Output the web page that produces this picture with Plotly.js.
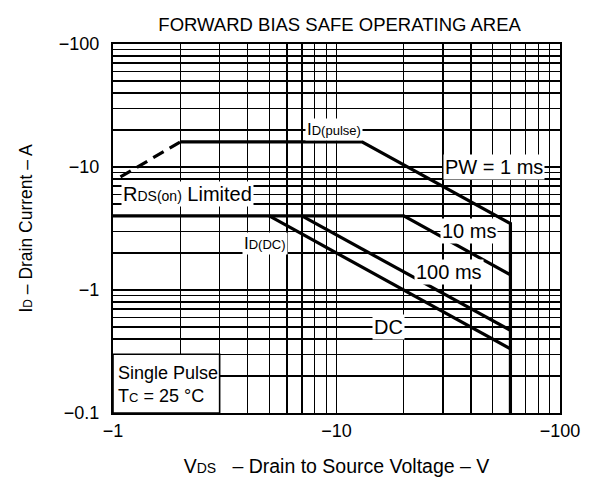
<!DOCTYPE html>
<html>
<head>
<meta charset="utf-8">
<script src="https://cdn.plot.ly/plotly-3.0.1.min.js"></script>
<style>html,body{margin:0;padding:0;background:#fff;}#chart{width:592px;height:483px;}</style>
</head>
<body>
<div id="chart"></div>
<script>
// ---- data (magnitudes; axis labels carry the minus sign) ----
const rdsX = [1.08, 2];          // RDS(on) limited (dashed)
const rdsY = [8.3, 16];
const pulseX = [2, 13, 60, 60];  // ID(pulse), PW = 1 ms
const pulseY = [16, 16, 3.47, 0.1];
const ms10X = [1, 20, 60];       // 10 ms (with ID(DC) flat part)
const ms10Y = [4, 4, 1.33];
const ms100X = [7, 60];          // 100 ms
const ms100Y = [4, 0.47];
const dcX = [5, 60];             // DC
const dcY = [4, 0.333];

const xTickVals = [1, 10, 100];
const xTickText = ['\u22121', '\u221210', '\u2212100'];
const yTickVals = [0.1, 1, 10, 100];
const yTickText = ['\u22120.1', '\u22121', '\u221210', '\u2212100'];

const labelText = [
  'I<span style="font-size:13px">D(pulse)</span>',
  'PW = 1 ms',
  'R<span style="font-size:14px">DS(on)</span> Limited',
  '10 ms',
  '100 ms',
  'I<span style="font-size:13px">D(DC)</span>',
  'DC'
];
const labelSize = [17, 20, 20, 20, 20, 17, 20];
const labelX = [9.7, 50.5, 2.15, 39, 32, 4.8, 17];
const labelY = [20, 10, 6, 3, 1.4, 2.4, 0.5];

// minor grid values 2..9 per decade
function minorVals(lo, hi) {
  const v = [];
  for (let d = lo; d < hi; d++) for (let k = 2; k <= 9; k++) v.push(k * Math.pow(10, d));
  return v;
}

const lineStyle = {color: '#000', width: 3.2};
const traces = [
  {x: rdsX, y: rdsY, mode: 'lines', line: {color: '#000', width: 3.2, dash: '12px,7px'}},
  {x: pulseX, y: pulseY, mode: 'lines', line: lineStyle},
  {x: ms10X, y: ms10Y, mode: 'lines', line: lineStyle},
  {x: ms100X, y: ms100Y, mode: 'lines', line: lineStyle},
  {x: dcX, y: dcY, mode: 'lines', line: lineStyle}
].map(t => Object.assign(t, {showlegend: false, hoverinfo: 'skip'}));

const font = {family: '"Liberation Sans", Arial, sans-serif', color: '#000'};

const annotations = labelText.map((t, i) => ({
  x: Math.log10(labelX[i]), y: Math.log10(labelY[i]), xref: 'x', yref: 'y',
  text: t, showarrow: false, bgcolor: '#fff', borderpad: 1,
  font: Object.assign({size: labelSize[i]}, font)
}));
annotations.push({
  x: 0.012, y: Math.log10(0.172), xref: 'x', yref: 'y', xanchor: 'left',
  text: 'Single Pulse<br>T<span style="font-size:13px">C</span> = 25 \u00B0C',
  align: 'left', showarrow: false, font: Object.assign({size: 18}, font)
});

const layout = {
  width: 592, height: 483,
  margin: {l: 113, r: 32, t: 44, b: 70},
  paper_bgcolor: '#fff', plot_bgcolor: '#fff',
  font: font,
  title: {text: 'FORWARD BIAS SAFE OPERATING AREA', x: 0.507, xref: 'paper', xanchor: 'center',
          y: 0.962, yref: 'container', font: Object.assign({size: 18.5}, font)},
  xaxis: {
    type: 'log', range: [0, 2], tickmode: 'array', tickvals: xTickVals, ticktext: xTickText,
    showline: true, mirror: true, linecolor: '#000', linewidth: 2.2,
    showgrid: true, gridcolor: '#000', gridwidth: 1.8, zeroline: false,
    ticks: '', tickfont: Object.assign({size: 18}, font),
    minor: {tickmode: 'array', tickvals: minorVals(0, 2), showgrid: true, gridcolor: '#000', gridwidth: 1.3, ticks: ''},
    title: {text: 'V<span style="font-size:14px">DS</span>\u00A0\u00A0 \u2013 Drain to Source Voltage \u2013 V', standoff: 20,
            font: Object.assign({size: 19.5}, font)}
  },
  yaxis: {
    type: 'log', range: [-1, 2], tickmode: 'array', tickvals: yTickVals, ticktext: yTickText,
    showline: true, mirror: true, linecolor: '#000', linewidth: 2.2,
    showgrid: true, gridcolor: '#000', gridwidth: 1.8, zeroline: false,
    ticks: 'outside', ticklen: 8, tickcolor: '#fff', tickfont: Object.assign({size: 18}, font),
    minor: {tickmode: 'array', tickvals: minorVals(-1, 2), showgrid: true, gridcolor: '#000', gridwidth: 1.3, ticks: ''},
    title: {text: 'I<span style="font-size:12px">D</span> \u2013 Drain Current \u2013 A', standoff: 22,
            font: Object.assign({size: 17.5}, font)}
  },
  shapes: [{
    type: 'rect', xref: 'x', yref: 'y', x0: 1, x1: 3, y0: 0.1, y1: 0.3,
    fillcolor: '#fff', line: {color: '#000', width: 1.6}, layer: 'between'
  }],
  annotations: annotations
};

Plotly.newPlot('chart', traces, layout, {displayModeBar: false, staticPlot: true});
</script>
</body>
</html>
